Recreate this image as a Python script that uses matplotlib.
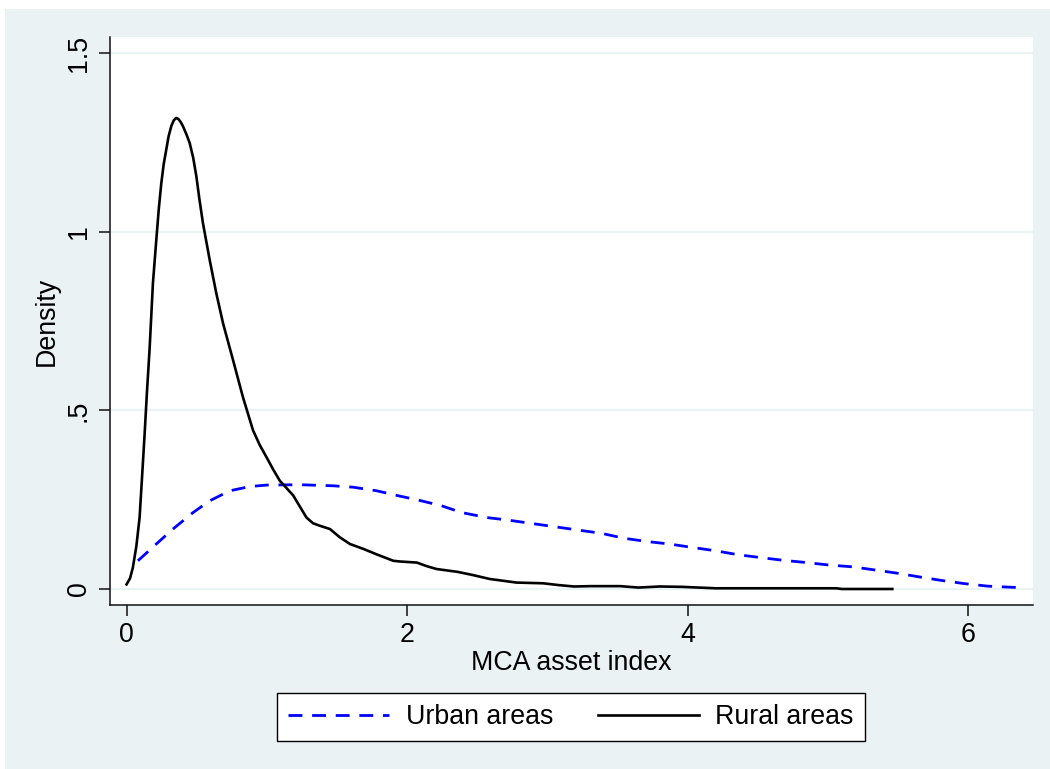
import matplotlib.pyplot as plt
from matplotlib.patches import Rectangle

# kernel density estimates of the asset index, by area
urban_x = [0.081, 0.212, 0.331, 0.474, 0.593, 0.736, 0.879, 0.998, 1.236, 1.474,
           1.617, 1.783, 1.95, 2.08, 2.246, 2.39, 2.57, 2.72, 2.897, 3.06,
           3.22, 3.385, 3.548, 3.71, 3.87, 4.04, 4.2, 4.36, 4.52, 4.69,
           4.85, 5.01, 5.18, 5.34, 5.5, 5.65, 5.81, 5.975, 6.14, 6.36]
urban_y = [0.079, 0.126, 0.168, 0.214, 0.247, 0.275, 0.287, 0.291, 0.292, 0.289,
           0.285, 0.275, 0.26, 0.249, 0.233, 0.214, 0.200, 0.193, 0.183, 0.174,
           0.165, 0.156, 0.142, 0.133, 0.126, 0.116, 0.107, 0.096, 0.088, 0.080,
           0.074, 0.067, 0.062, 0.053, 0.044, 0.034, 0.024, 0.015, 0.008, 0.004]

rural_x = [0.0, 0.025, 0.045, 0.07, 0.093, 0.11, 0.129, 0.146, 0.164, 0.188,
           0.212, 0.23, 0.248, 0.265, 0.283, 0.30, 0.319, 0.336, 0.353, 0.37,
           0.387, 0.402, 0.425, 0.45, 0.475, 0.498, 0.52, 0.545, 0.593, 0.64,
           0.688, 0.76, 0.83, 0.902, 0.95, 0.998, 1.045, 1.093, 1.14, 1.188,
           1.24, 1.283, 1.33, 1.379, 1.45, 1.52, 1.593, 1.69, 1.783, 1.902,
           1.95, 2.07, 2.14, 2.21, 2.36, 2.47, 2.59, 2.78, 2.97, 3.08,
           3.19, 3.31, 3.52, 3.65, 3.8, 3.96, 4.2, 5.06, 5.1, 5.46]
rural_y = [0.013, 0.03, 0.06, 0.12, 0.20, 0.31, 0.435, 0.555, 0.67, 0.856,
           0.977, 1.065, 1.137, 1.19, 1.23, 1.268, 1.296, 1.312, 1.319, 1.316,
           1.307, 1.296, 1.275, 1.249, 1.208, 1.155, 1.09, 1.024, 0.921, 0.828,
           0.744, 0.64, 0.537, 0.444, 0.403, 0.369, 0.335, 0.303, 0.283, 0.262,
           0.228, 0.20, 0.184, 0.177, 0.168, 0.145, 0.126, 0.112, 0.097, 0.079,
           0.077, 0.074, 0.064, 0.056, 0.048, 0.039, 0.028, 0.018, 0.016, 0.011,
           0.007, 0.008, 0.008, 0.004, 0.007, 0.006, 0.002, 0.002, 0.0, 0.0]

x_ticks = [0, 2, 4, 6]
y_ticks = [0, 0.5, 1, 1.5]
y_tick_labels = ['0', '.5', '1', '1.5']

bg = '#EAF2F3'
plt.rcParams['font.family'] = ['Liberation Sans', 'DejaVu Sans']
fs = 19.3

fig = plt.figure(figsize=(10.5, 7.69), dpi=100, facecolor='white')
fig.patches.append(Rectangle((5 / 1050, 0), 1, 1 - 9 / 769, transform=fig.transFigure,
                             facecolor=bg, edgecolor='none', zorder=-10))

ax = fig.add_axes([110 / 1050, 1 - 605 / 769, 923 / 1050, 568 / 769])
ax.set_facecolor('white')

for yv in y_ticks:
    ax.axhline(yv, color=bg, lw=1.6, zorder=0)

ax.plot(urban_x, urban_y, color='#0000FF', lw=2.0, dashes=(5.0, 3.5),
        label='Urban areas', zorder=3)
ax.plot(rural_x, rural_y, color='black', lw=1.9, label='Rural areas', zorder=3,
        solid_joinstyle='round')

ax.set_xlim(-0.118, 6.463)
ax.set_ylim(-0.0448, 1.5457)

ax.spines['top'].set_visible(False)
ax.spines['right'].set_visible(False)
for s in ['left', 'bottom']:
    ax.spines[s].set_linewidth(1.1)
    ax.spines[s].set_color('#111111')

ax.set_xticks(x_ticks)
ax.set_xticklabels([str(t) for t in x_ticks])
ax.set_yticks(y_ticks)
ax.set_yticklabels(y_tick_labels)
ax.tick_params(axis='both', length=8, width=1.1, color='#111111', labelsize=fs)
ax.tick_params(axis='x', pad=4)
ax.tick_params(axis='y', pad=5)
for lab in ax.get_yticklabels():
    lab.set_rotation(90)
    lab.set_va('center')
    lab.set_ha('right')

ax.set_xlabel('MCA asset index', fontsize=fs, labelpad=2)
ax.set_ylabel('Density', fontsize=fs)
ax.yaxis.set_label_coords(-0.054, 0.5)

leg = fig.legend(loc='center', bbox_to_anchor=(571 / 1050, 1 - 717 / 769), ncol=2,
                 fontsize=fs, frameon=True, fancybox=False, handlelength=3.75,
                 handletextpad=0.63, columnspacing=1.68, borderpad=0.42)
leg.get_frame().set_edgecolor('black')
leg.get_frame().set_linewidth(1.0)
leg.get_frame().set_facecolor('white')
leg.get_frame().set_alpha(1)

fig.savefig('out.png', dpi=100, facecolor=fig.get_facecolor())
